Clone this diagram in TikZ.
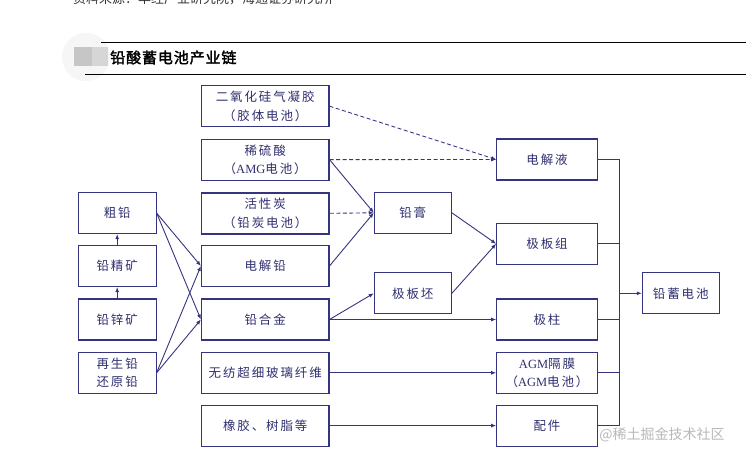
\documentclass[tikz,border=0pt]{standalone}
\usepackage{fontspec}
\setmainfont{Liberation Serif}
\newfontfamily\cjk{Noto Sans CJK SC}[LetterSpace=15]
\newfontfamily\cjktitle{Noto Sans CJK SC}[FakeBold=2,LetterSpace=6]
\newfontfamily\cjkplain{Noto Sans CJK SC}
\usetikzlibrary{arrows.meta}
\definecolor{navy}{HTML}{35357F}
\definecolor{navytext}{HTML}{303070}
\tikzset{
  box/.style={draw=navy, line width=1.1pt, inner sep=0pt, align=center,
    text=navytext, font=\fontsize{12.5}{18.5}\selectfont\cjk},
  midbox/.style={box, minimum width=127.5pt, minimum height=41pt},
  leftbox/.style={box, minimum width=77.7pt, minimum height=41pt},
  pastebox/.style={box, minimum width=77pt, minimum height=41pt},
  rightbox/.style={box, minimum width=100.6pt, minimum height=41pt},
  conn/.style={draw=navy, line width=0.9pt, -{Latex[length=5pt,width=4pt]}},
  dconn/.style={conn, dash pattern=on 4pt off 2.5pt},
  plain/.style={draw=navy, line width=0.9pt},
}
\begin{document}
\begin{tikzpicture}[x=1pt,y=-1pt]
\useasboundingbox (0,0) rectangle (746,457);
\fill[white] (0,0) rectangle (746,457);
% cut-off source line
\node[anchor=base west, inner sep=0pt, text=black!80, font=\fontsize{13}{13}\selectfont\cjkplain] (src) at (73,4) {资料来源：华经产业研究院，海通证券研究所};
% header
\fill[gray!7] (86,57) circle (24);
\fill[gray!45] (74,47) rectangle (92,66);
\fill[gray!32] (92,47) rectangle (108,66);
\draw[black, line width=0.9pt] (101,42) -- (746,42);
\draw[black, line width=0.9pt] (85,74) -- (746,74);
\node[anchor=west, inner sep=0pt, font=\fontsize{15}{15}\selectfont\cjktitle] (title) at (110,57.5) {铅酸蓄电池产业链};

% left column
\node[leftbox] (culead) at (117.2,213) {粗铅};
\node[leftbox] (conc) at (117.2,266) {铅精矿};
\node[leftbox] (ore) at (117.2,319.5) {铅锌矿};
\node[leftbox] (recy) at (117.2,372.8) {再生铅\\还原铅};

% middle column
\node[midbox] (gel) at (265.2,106.2) {二氧化硅气凝胶\\（胶体电池）};
\node[midbox] (acid) at (265.2,159.6) {稀硫酸\\（{\rmfamily AMG}电池）};
\node[midbox, line width=1.8pt] (carbon) at (265.2,213.3) {活性炭\\（铅炭电池）};
\node[midbox] (elead) at (265.2,266) {电解铅};
\node[midbox] (alloy) at (265.2,319.5) {铅合金};
\node[midbox] (fiber) at (265.2,372.8) {无纺超细玻璃纤维};
\node[midbox] (rubber) at (265.2,425.6) {橡胶、树脂等};

% paste column
\node[pastebox] (paste) at (412.8,212.8) {铅膏};
\node[pastebox] (grid) at (412.8,293.3) {极板坯};

% right column
\node[rightbox] (elec) at (547,159.5) {电解液};
\node[rightbox] (plate) at (547,243.8) {极板组};
\node[rightbox] (post) at (547,319.5) {极柱};
\node[rightbox] (agm) at (547,372.8) {{\rmfamily AGM}隔膜\\（{\rmfamily AGM}电池）};
\node[rightbox] (parts) at (547,425.6) {配件};

% battery
\node[pastebox] (batt) at (680.8,293.3) {铅蓄电池};

% bus
\coordinate (bustop) at (619.3,159.5);
\coordinate (busbot) at (619.3,425.6);
\coordinate (busout) at (619.3,293.3);

% connectors: left column
\draw[conn] (ore) -- (conc);
\draw[conn] (conc) -- (culead);
\draw[conn] (culead.east) -- (elead.west);
\draw[conn] (culead.east) -- (alloy.west);
\draw[conn] (recy.east) -- (elead.west);
\draw[conn] (recy.east) -- (alloy.west);

% middle to paste / electrolyte
\draw[dconn] (gel.east) -- (elec.west);
\draw[dconn] (acid.east) -- (elec.west);
\draw[conn] (acid.east) -- (paste.west);
\draw[dconn] (carbon.east) -- (paste.west);
\draw[conn] (elead.east) -- (paste.west);
\draw[conn] (alloy.east) -- (grid.west);
\draw[conn] (alloy.east) -- (post.west);
\draw[conn] (fiber.east) -- (agm.west);
\draw[conn] (rubber.east) -- (parts.west);
\draw[conn] (paste.east) -- (plate.west);
\draw[conn] (grid.east) -- (plate.west);

% bus to battery
\draw[plain] (elec.east) -- (bustop);
\draw[plain] (plate.east) -- (plate.east -| bustop);
\draw[plain] (post.east) -- (post.east -| bustop);
\draw[plain] (agm.east) -- (agm.east -| bustop);
\draw[plain] (parts.east) -- (busbot);
\draw[plain] (bustop) -- (busbot);
\draw[conn] (busout) -- (batt.west);

% watermark
\node[text=gray!55, font=\fontsize{14}{14}\selectfont\cjkplain, inner sep=0pt] (wm) at (662,435) {@稀土掘金技术社区};
\end{tikzpicture}
\end{document}
